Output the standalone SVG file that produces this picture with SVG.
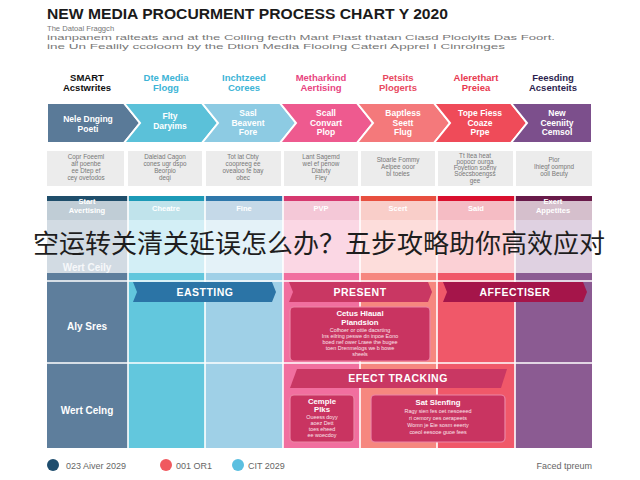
<svg xmlns="http://www.w3.org/2000/svg" width="640" height="480" viewBox="0 0 640 480">
<style>
text{font-family:"Liberation Sans","DejaVu Sans",sans-serif}
.title{font-size:14.5px;font-weight:bold;fill:#1a1a1a}
.sub{font-size:7.6px;fill:#777}
.hd{font-size:9.5px;font-weight:bold;text-anchor:middle}
.chev{stroke:#fff;stroke-width:2}
.ct{font-size:8.5px;font-weight:bold;fill:#fff;text-anchor:middle}
.box{fill:#ececec}
.bt{font-size:6.3px;fill:#777;text-anchor:middle}
.bar{font-size:7.5px;font-weight:bold;fill:#fff;text-anchor:middle}
.sep{stroke:#fff;stroke-width:1.6}
.bn{font-size:10.5px;font-weight:bold;fill:#fff;text-anchor:middle;letter-spacing:0.5px}
.pbox{fill:#c93461;stroke:#ec86a6;stroke-width:1.2}
.pt{font-size:7.8px;font-weight:bold;fill:#fff;text-anchor:middle}
.ps{font-size:5.4px;fill:#fbe3ea;text-anchor:middle}
.rl{font-size:10px;font-weight:bold;fill:#fff;text-anchor:middle}
.lg{font-size:9px;fill:#666}
</style>

<rect width="640" height="480" fill="#fff"/>

<g id="title">
<text class="title" x="47" y="19" textLength="401" lengthAdjust="spacingAndGlyphs">NEW MEDIA PROCURMENT PROCESS CHART Y 2020</text>
<text class="sub" x="47" y="31">The Datoal Fraggch</text>
<text class="sub" x="47" y="40" textLength="508" lengthAdjust="spacingAndGlyphs">inanpanem ralteats and at the Colling fecth Mant Plast thatan Ciasd Plociyits Das Foort.</text>
<text class="sub" x="47" y="48.5" textLength="458" lengthAdjust="spacingAndGlyphs">ine Un Fealily ccoloom by the Dtion Media Flooing Cateri Apprel I Cinrolnges</text>
</g>

<g id="columns">
<rect x="47" y="196" width="81" height="252" fill="#5e7e9c"/>
<rect x="128" y="196" width="77" height="252" fill="#62c7dd"/>
<rect x="205" y="196" width="78" height="252" fill="#9fd0e7"/>
<rect x="283" y="196" width="77" height="252" fill="#f16f9f"/>
<rect x="360" y="196" width="77" height="252" fill="#f6877f"/>
<rect x="437" y="196" width="78" height="252" fill="#f05869"/>
<rect x="515" y="196" width="77" height="252" fill="#8b5b92"/>
<rect x="47" y="196" width="81" height="24" fill="#1f4e6b"/>
<rect x="128" y="196" width="77" height="24" fill="#1d9ab7"/>
<rect x="205" y="196" width="78" height="24" fill="#2f78ab"/>
<rect x="283" y="196" width="77" height="24" fill="#d6396f"/>
<rect x="360" y="196" width="77" height="24" fill="#e84f3f"/>
<rect x="437" y="196" width="78" height="24" fill="#d90f2e"/>
<rect x="515" y="196" width="77" height="24" fill="#681a49"/>
<text class="bar" x="87" y="204">Start</text>
<text class="bar" x="87" y="213">Avertising</text>
<text class="bar" x="166" y="211">Cheatre</text>
<text class="bar" x="244" y="211">Fine</text>
<text class="bar" x="321" y="211">PVP</text>
<text class="bar" x="398" y="211">Scert</text>
<text class="bar" x="476" y="211">Said</text>
<text class="bar" x="553" y="204">Exert</text>
<text class="bar" x="553" y="213">Appetites</text>
<text class="rl" x="87" y="271" font-size="8" opacity="0.8">Wert Ceily</text>
<line class="sep" x1="128" y1="196" x2="128" y2="448"/>
<line class="sep" x1="205" y1="196" x2="205" y2="448"/>
<line class="sep" x1="283" y1="196" x2="283" y2="448"/>
<line class="sep" x1="360" y1="196" x2="360" y2="448"/>
<line class="sep" x1="437" y1="196" x2="437" y2="448"/>
<line class="sep" x1="515" y1="196" x2="515" y2="448"/>
<line class="sep" x1="47" y1="281" x2="592" y2="281"/>
<line class="sep" x1="47" y1="363" x2="592" y2="363"/>
<text class="rl" x="87" y="330">Aly Sres</text>
<text class="rl" x="87" y="414">Wert Celng</text>
</g>

<g id="headers">
<text class="hd" x="87" y="81" fill="#111">SMART</text>
<text class="hd" x="87" y="91" fill="#111">Acstwrites</text>
<text class="hd" x="166" y="81" fill="#3db4d6">Dte Media</text>
<text class="hd" x="166" y="91" fill="#3db4d6">Flogg</text>
<text class="hd" x="244" y="81" fill="#3db4d6">Inchtzeed</text>
<text class="hd" x="244" y="91" fill="#3db4d6">Corees</text>
<text class="hd" x="321" y="81" fill="#e8457f">Metharkind</text>
<text class="hd" x="321" y="91" fill="#e8457f">Aertising</text>
<text class="hd" x="398" y="81" fill="#e84a5f">Petsits</text>
<text class="hd" x="398" y="91" fill="#e84a5f">Plogerts</text>
<text class="hd" x="476" y="81" fill="#e83a4f">Alerethart</text>
<text class="hd" x="476" y="91" fill="#e83a4f">Preiea</text>
<text class="hd" x="553" y="81" fill="#2d1f4f">Feesding</text>
<text class="hd" x="553" y="91" fill="#2d1f4f">Acsenteits</text>
</g>

<g id="step1">
<polygon class="chev" points="47,103 124,103 140,123 124,143 47,143" fill="#5a7a98"/>
<text class="ct" x="88" y="122">Nele Dnging</text>
<text class="ct" x="88" y="131.5">Poeti</text>
</g>
<g id="step2">
<polygon class="chev" points="124,103 202,103 218,123 202,143 124,143 140,123" fill="#5bc1d9"/>
<text class="ct" x="170" y="119">Flty</text>
<text class="ct" x="170" y="128.5">Daryims</text>
</g>
<g id="step3">
<polygon class="chev" points="202,103 280,103 296,123 280,143 202,143 218,123" fill="#8dcbe3"/>
<text class="ct" x="248" y="116">Sasl</text>
<text class="ct" x="248" y="125.5">Beavent</text>
<text class="ct" x="248" y="135">Fore</text>
</g>
<g id="step4">
<polygon class="chev" points="280,103 357,103 373,123 357,143 280,143 296,123" fill="#ee5a8f"/>
<text class="ct" x="326" y="116">Scall</text>
<text class="ct" x="326" y="125.5">Convart</text>
<text class="ct" x="326" y="135">Plop</text>
</g>
<g id="step5">
<polygon class="chev" points="357,103 434,103 450,123 434,143 357,143 373,123" fill="#f4797b"/>
<text class="ct" x="403" y="116">Baptless</text>
<text class="ct" x="403" y="125.5">Seett</text>
<text class="ct" x="403" y="135">Flug</text>
</g>
<g id="step6">
<polygon class="chev" points="434,103 511,103 527,123 511,143 434,143 450,123" fill="#ef4b59"/>
<text class="ct" x="480" y="116">Tope Fiess</text>
<text class="ct" x="480" y="125.5">Coaze</text>
<text class="ct" x="480" y="135">Prpe</text>
</g>
<g id="step7">
<polygon class="chev" points="511,103 592,103 592,143 511,143 527,123" fill="#7c4f8c"/>
<text class="ct" x="557" y="116">New</text>
<text class="ct" x="557" y="125.5">Ceeniity</text>
<text class="ct" x="557" y="135">Cemsol</text>
</g>

<g id="desc1"><rect class="box" x="47" y="151" width="77" height="35"/>
<text class="bt" x="86" y="159">Copr Foeeml</text><text class="bt" x="86" y="166">alf poenbe</text><text class="bt" x="86" y="173">ee Dtep ef</text><text class="bt" x="86" y="180">cey ovetodos</text></g>
<g id="desc2"><rect class="box" x="128" y="151" width="74" height="35"/>
<text class="bt" x="165" y="159">Daleiad Cagon</text><text class="bt" x="165" y="166">cones ugr dspo</text><text class="bt" x="165" y="173">Beorpio</text><text class="bt" x="165" y="180">deqi</text></g>
<g id="desc3"><rect class="box" x="206" y="151" width="75" height="35"/>
<text class="bt" x="243" y="159">Tot lat Cbty</text><text class="bt" x="243" y="166">coopreeg ee</text><text class="bt" x="243" y="173">ovealoo fe bay</text><text class="bt" x="243" y="180">obec</text></g>
<g id="desc4"><rect class="box" x="284" y="151" width="74" height="35"/>
<text class="bt" x="321" y="159">Lant Sagemd</text><text class="bt" x="321" y="166">wel ef penow</text><text class="bt" x="321" y="173">Diatvty</text><text class="bt" x="321" y="180">Fley</text></g>
<g id="desc5"><rect class="box" x="361" y="151" width="74" height="35"/>
<text class="bt" x="398" y="162">Stoarle Fommy</text><text class="bt" x="398" y="169">Aelpee ooor</text><text class="bt" x="398" y="176">bl toeles</text></g>
<g id="desc6"><rect class="box" x="438" y="151" width="75" height="35"/>
<text class="bt" x="475" y="157.5" font-size="5.6">Tt Itea heat</text><text class="bt" x="475" y="163.8" font-size="5.6">popocr ourga</text><text class="bt" x="475" y="170.1" font-size="5.6">Foyetion soeny</text><text class="bt" x="475" y="176.4" font-size="5.6">Soecsboengss</text><text class="bt" x="475" y="182.7" font-size="5.6">gee</text></g>
<g id="desc7"><rect class="box" x="516" y="151" width="76" height="35"/>
<text class="bt" x="554" y="162">Pior</text><text class="bt" x="554" y="169">Ihiegf oompnd</text><text class="bt" x="554" y="176">ooll Beuty</text></g>

<g id="eastting">
<polygon points="133,282 272,282 276,292 272,302 133,302 137,292" fill="#2b74a6"/>
<text class="bn" x="205" y="296">EASTTING</text>
</g>
<g id="present">
<polygon points="289,282 428,282 432,292 428,302 289,302 293,292" fill="#c93763"/>
<text class="bn" x="360" y="296">PRESENT</text>
</g>
<g id="affectiser">
<polygon points="443,282 583,282 587,292 583,302 443,302 447,292" fill="#a5154a"/>
<text class="bn" x="515" y="296">AFFECTISER</text>
</g>
<g id="plan-box">
<rect class="pbox" x="290" y="307" width="140" height="54" rx="4"/>
<text class="pt" x="360" y="316">Cetus Hlaual</text>
<text class="pt" x="360" y="324.5">Plandsion</text>
<text class="ps" x="360" y="332">Cofhoer or ottie dacsrting</text>
<text class="ps" x="360" y="338">Ins eilring peswe dn inpoe Eono</text>
<text class="ps" x="360" y="344">boed nef ower Lraee the bugee</text>
<text class="ps" x="360" y="350">toen Drenmelogs we b bowe</text>
<text class="ps" x="360" y="356">sheels</text>
</g>
<g id="effect-tracking">
<polygon points="297,369 507,369 501,388 290,388" fill="#c93763"/>
<text class="bn" x="398" y="382">EFECT TRACKING</text>
</g>
<g id="sample-box">
<rect class="pbox" x="290" y="395" width="64" height="47" rx="4"/>
<text class="pt" x="322" y="403.5">Cemple</text>
<text class="pt" x="322" y="411.5">Plks</text>
<text class="ps" x="322" y="418.5">Oueess doyy</text>
<text class="ps" x="322" y="424.5">aoez Dett</text>
<text class="ps" x="322" y="430.5">toes eheed</text>
<text class="ps" x="322" y="436.5">ee woecdoy</text>
</g>
<g id="start-box">
<rect class="pbox" x="371" y="395" width="134" height="47" rx="4"/>
<text class="pt" x="438" y="405">Sat Slenfing</text>
<text class="ps" x="438" y="413">Ragy sien fes oet nesoeeed</text>
<text class="ps" x="438" y="420">ri cemory oes oerapeets</text>
<text class="ps" x="438" y="427">Womn je Eie sosm eeerty</text>
<text class="ps" x="438" y="434">coeol eesooe guoe fees</text>
</g>

<g id="overlay">
<rect x="47" y="201" width="545" height="72" fill="#fff" opacity="0.72"/>
<text x="33" y="253" font-size="26" fill="#1e1e1e" textLength="572" lengthAdjust="spacingAndGlyphs" style="font-family:'Noto Sans CJK SC','Noto Sans CJK JP',sans-serif">空运转关清关延误怎么办？五步攻略助你高效应对</text>
</g>

<g id="legend">
<circle cx="53" cy="465" r="6" fill="#1e4d6e"/>
<text class="lg" x="66" y="468.5">023 Aiver 2029</text>
<circle cx="166" cy="465" r="6" fill="#f0595f"/>
<text class="lg" x="176" y="468.5">001 OR1</text>
<circle cx="238" cy="465" r="6" fill="#5bbfe0"/>
<text class="lg" x="248" y="468.5">CIT 2029</text>
<text class="lg" x="592" y="468.5" text-anchor="end">Faced tpreum</text>
</g>
</svg>
